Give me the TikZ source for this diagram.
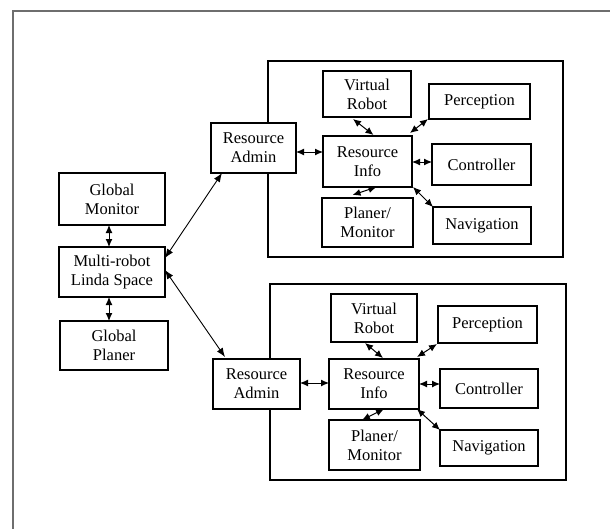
\documentclass[tikz,border=0pt]{standalone}
\usepackage{fontspec}
\setmainfont{Liberation Serif}
\newfontfamily\tnrfont{Liberation Serif}
\usetikzlibrary{arrows.meta,calc}
\definecolor{framegray}{RGB}{110,110,110}
\begin{document}
\begin{tikzpicture}[x=1pt,y=-1pt,
  blk/.style={draw=black,fill=white,line width=1.2pt,inner sep=0pt,outer sep=0pt,align=center,font=\tnrfont\fontsize{16.5}{19}\selectfont},
  grp/.style={draw=black,line width=1.2pt,inner sep=0pt,outer sep=0pt},
  arr/.style={line width=1pt,{Latex[length=8pt,width=7pt]}-{Latex[length=8pt,width=7pt]}},
  lng/.style={line width=0.9pt,{Latex[length=9pt,width=7pt]}-{Latex[length=9pt,width=7pt]}}]
\useasboundingbox (0,0) rectangle (610,528);
\clip (0,0) rectangle (610,528);
\draw[line width=1.8pt,draw=framegray] (13,560) -- (13,11) -- (640,11);
% group frames
\node[grp,minimum width=295pt,minimum height=196pt] (G1) at (415.5,159) {};
\node[grp,minimum width=296pt,minimum height=196pt] (G2) at (418,382) {};
% left column
\node[blk,minimum width=106pt,minimum height=52pt] (GM) at (112,199) {Global\\Monitor};
\node[blk,minimum width=106pt,minimum height=50pt] (LS) at (112,272) {Multi-robot\\Linda Space};
\node[blk,minimum width=108pt,minimum height=49pt] (GP) at (114,345.5) {Global\\Planer};
% top group
\node[blk,minimum width=85pt,minimum height=50pt] (RA1) at (253.5,148) {Resource\\Admin};
\node[blk,minimum width=88pt,minimum height=46pt] (VR1) at (367,94) {Virtual\\Robot};
\node[blk,minimum width=101pt,minimum height=35pt] (PE1) at (479.5,101.5) {Perception};
\node[blk,minimum width=89pt,minimum height=51pt] (RI1) at (367.5,161.5) {Resource\\Info};
\node[blk,minimum width=99pt,minimum height=41pt] (CO1) at (481.5,164.5) {Controller};
\node[blk,minimum width=91pt,minimum height=49pt] (PM1) at (367.5,222.5) {Planer/\\Monitor};
\node[blk,minimum width=98pt,minimum height=37pt] (NA1) at (482,225.5) {Navigation};
% bottom group
\node[blk,minimum width=87pt,minimum height=50pt] (RA2) at (256.5,384) {Resource\\Admin};
\node[blk,minimum width=86pt,minimum height=48pt] (VR2) at (374,318) {Virtual\\Robot};
\node[blk,minimum width=99pt,minimum height=37pt] (PE2) at (487.5,324.5) {Perception};
\node[blk,minimum width=90pt,minimum height=50pt] (RI2) at (374,384) {Resource\\Info};
\node[blk,minimum width=98pt,minimum height=39pt] (CO2) at (489,388.5) {Controller};
\node[blk,minimum width=91pt,minimum height=50pt] (PM2) at (374.5,445) {Planer/\\Monitor};
\node[blk,minimum width=98pt,minimum height=36pt] (NA2) at (489,448) {Navigation};
% left connectors
\draw[arr] ([xshift=-3pt]GM.south) -- ([xshift=-3pt]GM.south |- LS.north);
\draw[arr] ([xshift=-3pt]LS.south) -- ([xshift=-3pt]LS.south |- GP.north);
\draw[lng] ([yshift=14pt]LS.east) -- ([xshift=11pt]RA1.south west);
\draw[lng] ([yshift=2pt]LS.east) -- ([xshift=12pt,yshift=2pt]RA2.north west);
% top group connectors
\draw[arr] ([yshift=-4pt]RA1.east) -- ([yshift=-4pt]RA1.east -| RI1.west);
\draw[arr] ([yshift=-0.5pt]RI1.east) -- ([yshift=-0.5pt]RI1.east -| CO1.west);
\draw[arr] ([xshift=-14pt,yshift=-2pt]VR1.south) -- ([xshift=6pt,yshift=1pt]RI1.north);
\draw[arr] ([xshift=-1pt]PE1.south west) -- ([xshift=-2pt,yshift=3pt]RI1.north east);
\draw[arr] ([xshift=-15pt,yshift=3pt]PM1.north) -- ([xshift=9pt]RI1.south);
\draw[arr] ([xshift=1pt]RI1.south east) -- (NA1.north west);
% bottom group connectors
\draw[arr] ([yshift=1pt]RA2.east) -- ([yshift=1pt]RA2.east -| RI2.west);
\draw[arr] (RI2.east) -- (RI2.east -| CO2.west);
\draw[arr] ([xshift=-9pt,yshift=-1pt]VR2.south) -- ([xshift=9pt,yshift=1pt]RI2.north);
\draw[arr] ([xshift=-1pt,yshift=-1pt]PE2.south west) -- ([xshift=-2pt,yshift=2pt]RI2.north east);
\draw[arr] ([xshift=-12.5pt]PM2.north) -- ([xshift=10pt]RI2.south);
\draw[arr] ([xshift=-2pt]RI2.south east) -- (NA2.north west);
\end{tikzpicture}
\end{document}
